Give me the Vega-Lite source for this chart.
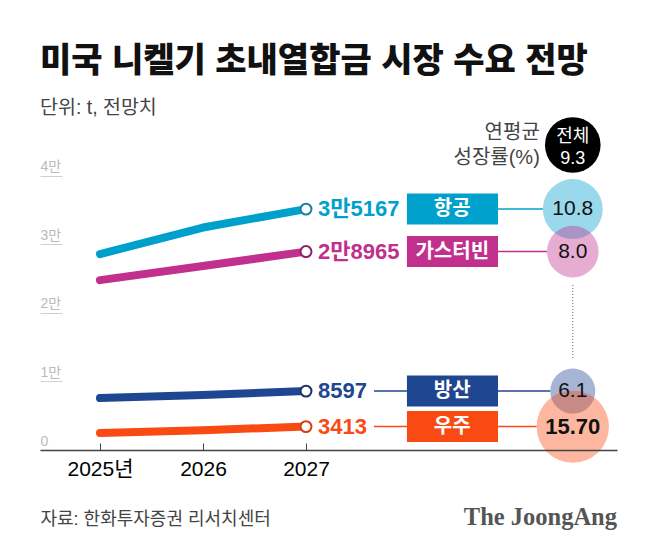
{
  "$schema": "https://vega.github.io/schema/vega-lite/v6.json",
  "width": 577,
  "height": 330,
  "autosize": "none",
  "padding": {"left": 40, "top": 120, "right": 41, "bottom": 105},
  "background": "white",
  "config": {
    "view": {"stroke": null},
    "font": "'Liberation Sans','Noto Sans CJK KR'",
    "text": {"font": "'Liberation Sans','Noto Sans CJK KR'"}
  },
  "title": {
    "text": "미국 니켈기 초내열합금 시장 수요 전망",
    "subtitle": "단위: t, 전망치",
    "anchor": "start",
    "frame": "group",
    "fontSize": 34,
    "fontWeight": 900,
    "color": "#111111",
    "subtitleFontSize": 19.5,
    "subtitleColor": "#444444",
    "subtitlePadding": 20,
    "offset": 0
  },
  "datasets": {
    "lines": [
      {"sector": "항공", "year": 2025, "value": 28600},
      {"sector": "항공", "year": 2026, "value": 32480},
      {"sector": "항공", "year": 2027, "value": 35167},
      {"sector": "가스터빈", "year": 2025, "value": 24800},
      {"sector": "가스터빈", "year": 2026, "value": 26860},
      {"sector": "가스터빈", "year": 2027, "value": 28965},
      {"sector": "방산", "year": 2025, "value": 7590},
      {"sector": "방산", "year": 2026, "value": 8030},
      {"sector": "방산", "year": 2027, "value": 8597},
      {"sector": "우주", "year": 2025, "value": 2480},
      {"sector": "우주", "year": 2026, "value": 2900},
      {"sector": "우주", "year": 2027, "value": 3413}
    ],
    "sectors": [
      {"sector": "항공", "value": 35167, "valueLabel": "3만5167", "growth": 10.8, "growthLabel": "10.8"},
      {"sector": "가스터빈", "value": 28965, "valueLabel": "2만8965", "growth": 8.0, "growthLabel": "8.0"},
      {"sector": "방산", "value": 8597, "valueLabel": "8597", "growth": 6.1, "growthLabel": "6.1"},
      {"sector": "우주", "value": 3413, "valueLabel": "3413", "growth": 15.7, "growthLabel": "15.70"}
    ],
    "total": [
      {"sector": "전체", "value": 44526, "growth": 9.3}
    ]
  },
  "layer": [
    {
      "data": {"name": "sectors"},
      "mark": {"type": "rule", "strokeWidth": 1.5},
      "encoding": {
        "x": {
          "datum": 2028.864,
          "type": "quantitative",
          "scale": {"domain": [2024.4175, 2030.0194], "nice": false, "zero": false},
          "axis": {
            "values": [2025, 2026, 2027],
            "labelExpr": "datum.value == 2025 ? '2025년' : datum.value + ''",
            "grid": false,
            "zindex": 1,
            "domainColor": "#444444",
            "domainWidth": 1.5,
            "tickColor": "#444444",
            "tickWidth": 1,
            "tickSize": -7,
            "labelFontSize": 21,
            "labelColor": "#000000",
            "labelPadding": 15,
            "labelFlush": false,
            "labelOverlap": false,
            "title": "자료: 한화투자증권 리서치센터",
            "titleFontSize": 18,
            "titleFontWeight": "normal",
            "titleColor": "#444444",
            "titleX": 0,
            "titleY": 69,
            "titleAlign": "left",
            "titleBaseline": "middle"
          }
        },
        "x2": {"datum": 2029.59},
        "y": {
          "field": "value",
          "type": "quantitative",
          "scale": {"domain": [0, 48175], "nice": false},
          "axis": {
            "values": [0, 10000, 20000, 30000, 40000],
            "labelExpr": "datum.value == 0 ? '0' : datum.value / 10000 + '만'",
            "domain": false,
            "grid": false,
            "title": null,
            "tickColor": "#d0d0d0",
            "tickSize": -22,
            "labelColor": "#bbbbbb",
            "labelFontSize": 14,
            "labelAlign": "left",
            "labelBaseline": "bottom",
            "labelPadding": 22,
            "labelOffset": -2
          }
        },
        "color": {
          "field": "sector",
          "scale": {
            "domain": ["항공", "가스터빈", "방산", "우주"],
            "range": ["#00a0cc", "#c0308c", "#1f4690", "#fa4a14"]
          },
          "legend": null
        }
      }
    },
    {
      "data": {"name": "sectors"},
      "transform": [{"filter": "datum.value < 10000"}],
      "mark": {"type": "rule", "strokeWidth": 1.5},
      "encoding": {
        "x": {"datum": 2027.66, "type": "quantitative"},
        "x2": {"datum": 2027.98},
        "y": {"field": "value", "type": "quantitative"},
        "color": {"field": "sector"}
      }
    },
    {
      "data": {"name": "sectors"},
      "mark": {"type": "circle", "color": "white", "opacity": 1},
      "encoding": {
        "x": {"datum": 2029.59, "type": "quantitative"},
        "y": {"field": "value", "type": "quantitative"},
        "size": {"field": "growth", "type": "quantitative", "scale": {"domain": [0, 16], "range": [0, 5328]}, "legend": null}
      }
    },
    {
      "data": {"name": "sectors"},
      "mark": {"type": "circle", "opacity": 0.4},
      "encoding": {
        "x": {"datum": 2029.59, "type": "quantitative"},
        "y": {"field": "value", "type": "quantitative"},
        "size": {"field": "growth", "type": "quantitative"},
        "color": {"field": "sector"}
      }
    },
    {
      "data": {"name": "sectors"},
      "mark": {"type": "rule", "strokeWidth": 31, "strokeCap": "butt"},
      "encoding": {
        "x": {"datum": 2027.98, "type": "quantitative"},
        "x2": {"datum": 2028.864},
        "y": {"field": "value", "type": "quantitative"},
        "color": {"field": "sector"}
      }
    },
    {
      "data": {"name": "lines"},
      "mark": {"type": "line", "strokeWidth": 8, "strokeCap": "round", "strokeJoin": "round"},
      "encoding": {
        "x": {"field": "year", "type": "quantitative"},
        "y": {"field": "value", "type": "quantitative"},
        "color": {"field": "sector"}
      }
    },
    {
      "data": {"name": "sectors"},
      "mark": {"type": "point", "filled": false, "fill": "white", "fillOpacity": 1, "opacity": 1, "size": 120, "strokeWidth": 2},
      "encoding": {
        "x": {"datum": 2027, "type": "quantitative"},
        "y": {"field": "value", "type": "quantitative"},
        "stroke": {
          "field": "sector",
          "scale": {
            "domain": ["항공", "가스터빈", "방산", "우주"],
            "range": ["#1a7f9c", "#8f1f6a", "#16326b", "#d93c0e"]
          },
          "legend": null
        }
      }
    },
    {
      "data": {"name": "sectors"},
      "mark": {"type": "text", "align": "left", "baseline": "middle", "dx": 12, "fontSize": 22, "fontWeight": "bold"},
      "encoding": {
        "x": {"datum": 2027, "type": "quantitative"},
        "y": {"field": "value", "type": "quantitative"},
        "text": {"field": "valueLabel"},
        "color": {"field": "sector"}
      }
    },
    {
      "data": {"name": "sectors"},
      "mark": {"type": "text", "align": "center", "baseline": "middle", "fontSize": 20, "fontWeight": "bold", "color": "white"},
      "encoding": {
        "x": {"datum": 2028.42, "type": "quantitative"},
        "y": {"field": "value", "type": "quantitative"},
        "text": {"field": "sector"}
      }
    },
    {
      "data": {"name": "sectors"},
      "transform": [{"filter": "datum.growth < 15"}],
      "mark": {"type": "text", "align": "center", "baseline": "middle", "fontSize": 21, "color": "#111111"},
      "encoding": {
        "x": {"datum": 2029.59, "type": "quantitative"},
        "y": {"field": "value", "type": "quantitative"},
        "text": {"field": "growthLabel"}
      }
    },
    {
      "data": {"name": "sectors"},
      "transform": [{"filter": "datum.growth >= 15"}],
      "mark": {"type": "text", "align": "center", "baseline": "middle", "fontSize": 22, "fontWeight": "bold", "color": "#111111"},
      "encoding": {
        "x": {"datum": 2029.59, "type": "quantitative"},
        "y": {"field": "value", "type": "quantitative"},
        "text": {"field": "growthLabel"}
      }
    },
    {
      "data": {"name": "total"},
      "mark": {"type": "circle", "color": "#000000", "opacity": 1},
      "encoding": {
        "x": {"datum": 2029.59, "type": "quantitative"},
        "y": {"field": "value", "type": "quantitative"},
        "size": {"field": "growth", "type": "quantitative"}
      }
    },
    {
      "data": {"name": "total"},
      "mark": {"type": "text", "align": "center", "baseline": "middle", "lineBreak": "\n", "lineHeight": 22, "dy": -8, "fontSize": 18, "color": "white"},
      "encoding": {
        "x": {"datum": 2029.59, "type": "quantitative"},
        "y": {"field": "value", "type": "quantitative"},
        "text": {"value": "전체\n9.3"}
      }
    },
    {
      "data": {"name": "total"},
      "mark": {"type": "text", "align": "right", "baseline": "middle", "lineBreak": "\n", "lineHeight": 25, "dy": -12, "fontSize": 20, "color": "#444444"},
      "encoding": {
        "x": {"datum": 2029.27, "type": "quantitative"},
        "y": {"field": "value", "type": "quantitative"},
        "text": {"value": "연평균\n성장률(%)"}
      }
    },
    {
      "data": {"name": "total"},
      "mark": {"type": "rule", "strokeWidth": 1, "strokeDash": [1, 2], "color": "#666666"},
      "encoding": {
        "x": {"datum": 2029.59, "type": "quantitative"},
        "y": {"datum": 24088, "type": "quantitative"},
        "y2": {"datum": 13431}
      }
    },
    {
      "data": {"name": "total"},
      "mark": {"type": "text", "align": "right", "baseline": "middle", "font": "Liberation Serif", "fontWeight": "bold", "fontSize": 24.5, "color": "#555555"},
      "encoding": {
        "x": {"datum": 2030.0194, "type": "quantitative"},
        "y": {"datum": -9930, "type": "quantitative"},
        "text": {"value": "The JoongAng"}
      }
    }
  ]
}
